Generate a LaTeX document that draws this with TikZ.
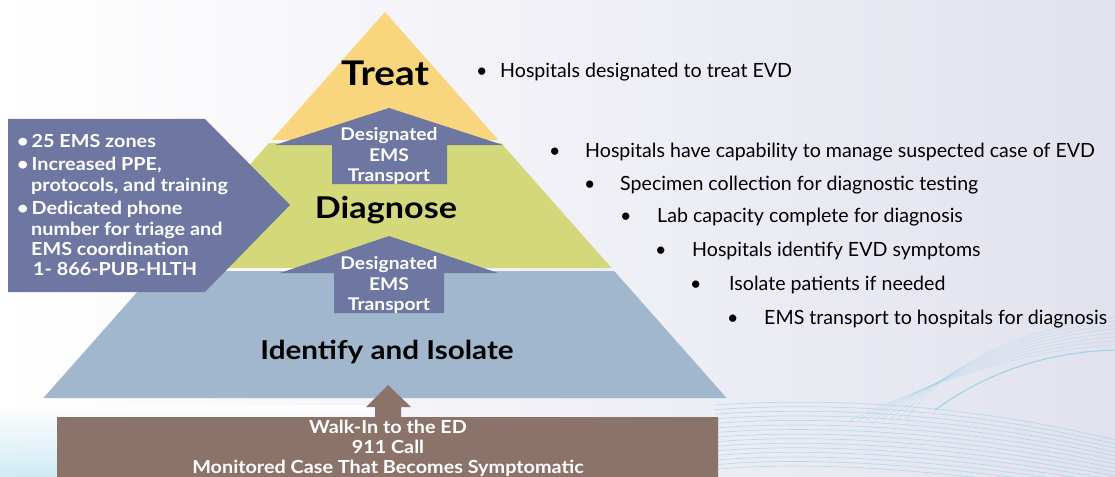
\documentclass[tikz,border=0pt]{standalone}
\usepackage{fontspec}
\setmainfont{Lato}
\newfontfamily\widebold[FakeStretch=1.1]{Lato Bold}
\newfontfamily\widetitle[FakeStretch=1.14]{Lato Bold}
\definecolor{treatY}{HTML}{F9D67D}
\definecolor{diagG}{HTML}{D3D97B}
\definecolor{identB}{HTML}{A1B7CD}
\definecolor{slate}{HTML}{6D77A1}
\definecolor{brownbox}{HTML}{8C736A}
\definecolor{bgR}{HTML}{E2E2EE}
\definecolor{waveC}{HTML}{7FC8E3}
\begin{document}
\begin{tikzpicture}[x=1pt,y=-1pt,
  arrowtxt/.style={text=white,font=\widebold\fontsize{17.5}{20}\selectfont,anchor=base,inner sep=0},
  pentxt/.style={text=white,font=\widebold\fontsize{18}{20}\selectfont,anchor=base west,inner sep=0},
  browntxt/.style={text=white,font=\widebold\fontsize{18}{20}\selectfont,anchor=base,inner sep=0},
  righttxt/.style={text=black,font=\fontsize{19.6}{22}\selectfont,anchor=base west,inner sep=0},
  title/.style={text=black,anchor=base,inner sep=0},
  wave/.style={waveC,opacity=0.45,line width=0.7pt}]
\useasboundingbox (0,0) rectangle (1115,476);
% background
\shade[left color=white,right color=bgR] (0,0) rectangle (1115,476);
\shade[top color=white,bottom color=waveC!40,opacity=0.9] (0,405) rectangle (400,476);
\foreach \i in {0,...,14}{
  \draw[wave]
    (715,405+4.6*\i) .. controls (820,398+4.4*\i) and (960,402+5*\i) .. (1115,440+4*\i);
}
\foreach \i in {0,...,7}{
  \draw[wave,opacity=0.25]
    (850+8*\i,420) .. controls (940,380-2*\i) and (1020,350-3*\i) .. (1115,345-4*\i);
}
\draw[waveC,opacity=0.6,line width=1.2pt] (935,410) .. controls (990,370) and (1050,352) .. (1115,350);
% pyramid layers
\fill[treatY] (385,12) -- (498.3,140) -- (271.7,140) -- cycle;
\fill[diagG] (269,143) -- (501,143) -- (611.6,268) -- (158.4,268) -- cycle;
\fill[identB] (155.8,271) -- (614.2,271) -- (726.6,398) -- (43.4,398) -- cycle;
% up arrows
\fill[slate] (389,108) -- (503,145) -- (447,145) -- (447,184) -- (332,184) -- (332,145) -- (275,145) -- cycle;
\fill[slate] (389,236) -- (498,273) -- (444,273) -- (444,313) -- (334,313) -- (334,273) -- (280,273) -- cycle;
\node[arrowtxt] (a1) at (389,140) {Designated};
\node[arrowtxt] (a2) at (389,161) {EMS};
\node[arrowtxt] (a3) at (389,181) {Transport};
\node[arrowtxt] (b1) at (389,269) {Designated};
\node[arrowtxt] (b2) at (389,290) {EMS};
\node[arrowtxt] (b3) at (389,310) {Transport};
% titles
\node[title,font=\widetitle\fontsize{34}{38}\selectfont] (treat) at (385,86) {Treat};
\node[title,font=\widetitle\fontsize{30}{34}\selectfont] (diag) at (386,218) {Diagnose};
\node[title,font=\widetitle\fontsize{26}{30}\selectfont] (ident) at (387,359) {Identify and Isolate};
% brown box and arrow
\fill[brownbox] (388,385) -- (411,407) -- (401,407) -- (401,417) -- (718,417) -- (718,480) -- (57,480) -- (57,417) -- (375,417) -- (375,407) -- (366,407) -- cycle;
\node[browntxt] (w1) at (388,433) {Walk-In to the ED};
\node[browntxt] (w2) at (388,453) {911 Call};
\node[browntxt] (w3) at (388,473) {Monitored Case That Becomes Symptomatic};
% left pentagon
\fill[slate] (8,119) -- (205,119) -- (290,205) -- (205,292) -- (8,292) -- cycle;
\node[pentxt] (p1) at (17,147) {•\,25 EMS zones};
\node[pentxt] (p2) at (17,170) {•\,Increased PPE,};
\node[pentxt] (p3) at (31,191) {protocols, and training};
\node[pentxt] (p4) at (17,214) {•\,Dedicated phone};
\node[pentxt] (p5) at (31,235) {number for triage and};
\node[pentxt] (p6) at (31,255) {EMS coordination};
\node[pentxt] (p7) at (33,275) {1- 866-PUB-HLTH};
% right bullets
\node[righttxt] (r0b) at (476,78) {•};
\node[righttxt] (r0) at (500,78) {Hospitals designated to treat EVD};
\node[righttxt] (r1b) at (549,157) {•};
\node[righttxt] (r1) at (585,157) {Hospitals have capability to manage suspected case of EVD};
\node[righttxt] (r2b) at (584,190) {•};
\node[righttxt] (r2) at (620,190) {Specimen collection for diagnostic testing};
\node[righttxt] (r3b) at (620,222) {•};
\node[righttxt] (r3) at (657,222) {Lab capacity complete for diagnosis};
\node[righttxt] (r4b) at (655,256) {•};
\node[righttxt] (r4) at (692,256) {Hospitals identify EVD symptoms};
\node[righttxt] (r5b) at (690,290) {•};
\node[righttxt] (r5) at (729,290) {Isolate patients if needed};
\node[righttxt] (r6b) at (727,324) {•};
\node[righttxt] (r6) at (764,324) {EMS transport to hospitals for diagnosis};
\end{tikzpicture}
\end{document}
